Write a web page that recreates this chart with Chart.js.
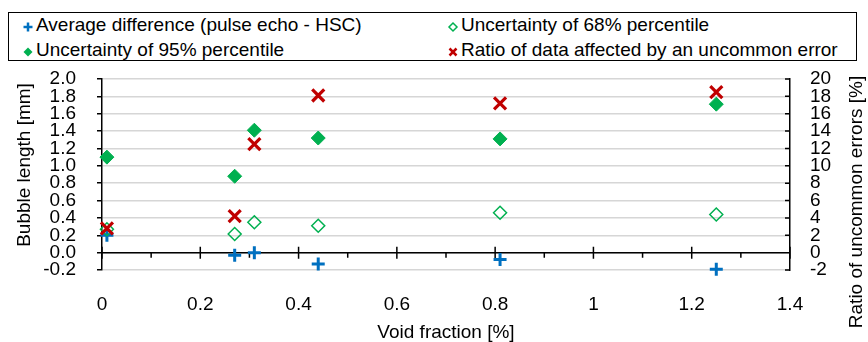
<!DOCTYPE html>
<html>
<head>
<meta charset="utf-8">
<title>Bubble length vs void fraction</title>
<script src="https://cdn.jsdelivr.net/npm/chart.js@4/dist/chart.umd.min.js"></script>
<style>
  html, body { margin: 0; padding: 0; background: #fff; }
  #wrap { position: relative; width: 868px; height: 342px; font-family: "Liberation Sans", Arial, sans-serif; }
  #legendBox { position: absolute; left: 8px; top: 12px; width: 849px; height: 49px; border: 1.5px solid #000; box-sizing: border-box; background: #fff; }
  .lg-mark { position: absolute; width: 12px; height: 12px; }
  .lg-text { position: absolute; font-size: 19px; line-height: 22px; white-space: nowrap; color: #000; }
</style>
</head>
<body>
<div id="wrap">
  <canvas id="bubbleChart" width="868" height="342"></canvas>
  <div id="legendBox"></div>
</div>
<script>
// data
const voidFraction = [0.01, 0.27, 0.31, 0.44, 0.81, 1.25];
const avgDifference = [0.20, -0.03, 0.00, -0.13, -0.08, -0.19];
const uncertainty68 = [0.27, 0.215, 0.35, 0.31, 0.46, 0.44];
const uncertainty95 = [1.10, 0.88, 1.41, 1.32, 1.31, 1.71];
const uncommonRatio = [2.8, 4.2, 12.5, 18.1, 17.2, 18.5];

// tick values of the three axes
const xTickValues = [0, 0.2, 0.4, 0.6, 0.8, 1, 1.2, 1.4];
const yTickValues = [-0.2, 0, 0.2, 0.4, 0.6, 0.8, 1.0, 1.2, 1.4, 1.6, 1.8, 2.0];
const y2TickValues = [-2, 0, 2, 4, 6, 8, 10, 12, 14, 16, 18, 20];

const seriesNames = [
    'Average difference (pulse echo - HSC)',
    'Uncertainty of 68% percentile',
    'Uncertainty of 95% percentile',
    'Ratio of data affected by an uncommon error'
];

const BLUE = '#0070C0';
const GREEN = '#00B050';
const RED = '#C00000';
const FONT = '"Liberation Sans", Arial, sans-serif';

function toPoints(values) {
    return voidFraction.map((x, i) => ({ x: x, y: values[i] }));
}

// extra axis drawing: x axis line at y = 0, inward ticks on the right axis, titles
const axisExtras = {
    id: 'axisExtras',
    beforeDatasetsDraw(chart) {
        const ctx = chart.ctx;
        const area = chart.chartArea;
        const xs = chart.scales.x;
        const ys = chart.scales.y;
        const y2 = chart.scales.y2;
        const y0 = ys.getPixelForValue(0);

        ctx.save();
        ctx.strokeStyle = '#000';
        ctx.lineWidth = 1.5;
        ctx.beginPath();
        ctx.moveTo(area.left, y0);
        ctx.lineTo(area.right, y0);
        xTickValues.forEach(v => {
            const px = xs.getPixelForValue(v);
            ctx.moveTo(px, y0 - 6);
            ctx.lineTo(px, y0 + 6);
        });
        for (let i = 0; i < xTickValues.length - 1; i++) {
            const px = xs.getPixelForValue((xTickValues[i] + xTickValues[i + 1]) / 2);
            ctx.moveTo(px, y0);
            ctx.lineTo(px, y0 + 5);
        }
        y2TickValues.forEach(v => {
            const py = y2.getPixelForValue(v);
            ctx.moveTo(area.right, py);
            ctx.lineTo(area.right - 5, py);
        });
        ctx.stroke();
        ctx.restore();
    },
    afterDraw(chart) {
        const ctx = chart.ctx;
        ctx.save();
        ctx.fillStyle = '#000';
        ctx.font = '19px ' + FONT;
        ctx.textAlign = 'center';
        ctx.textBaseline = 'middle';
        ctx.fillText('Void fraction [%]', (chart.chartArea.left + chart.chartArea.right) / 2, 333);

        ctx.translate(25, 165);
        ctx.rotate(-Math.PI / 2);
        ctx.fillText('Bubble length [mm]', 0, 0);
        ctx.restore();

        ctx.save();
        ctx.fillStyle = '#000';
        ctx.font = '19px ' + FONT;
        ctx.textAlign = 'center';
        ctx.textBaseline = 'middle';
        ctx.translate(857, 202);
        ctx.rotate(-Math.PI / 2);
        ctx.fillText('Ratio of uncommon errors [%]', 0, 0);
        ctx.restore();
    }
};

const canvas = document.getElementById('bubbleChart');
new Chart(canvas.getContext('2d'), {
    type: 'scatter',
    data: {
        datasets: [
            {
                label: seriesNames[0], data: toPoints(avgDifference), yAxisID: 'y', order: 3, clip: false,
                pointStyle: 'cross', pointRadius: 6.5, pointBorderWidth: 3,
                borderColor: BLUE, backgroundColor: BLUE
            },
            {
                label: seriesNames[1], data: toPoints(uncertainty68), yAxisID: 'y', order: 2, clip: false,
                pointStyle: 'rectRot', pointRadius: 6.5, pointBorderWidth: 1.5,
                borderColor: GREEN, backgroundColor: 'rgba(255,255,255,0)'
            },
            {
                label: seriesNames[2], data: toPoints(uncertainty95), yAxisID: 'y', order: 1, clip: false,
                pointStyle: 'rectRot', pointRadius: 7, pointBorderWidth: 1,
                borderColor: GREEN, backgroundColor: GREEN
            },
            {
                label: seriesNames[3], data: toPoints(uncommonRatio), yAxisID: 'y2', order: 0, clip: false,
                pointStyle: 'crossRot', pointRadius: 8.5, pointBorderWidth: 3.2,
                borderColor: RED, backgroundColor: RED
            }
        ]
    },
    options: {
        responsive: false,
        animation: false,
        devicePixelRatio: 1,
        layout: { padding: { top: 79, left: 0, right: 0, bottom: 0 } },
        plugins: { legend: { display: false }, tooltip: { enabled: false } },
        scales: {
            x: {
                type: 'linear', position: 'bottom', min: 0, max: 1.4,
                afterBuildTicks: s => { s.ticks = xTickValues.map(v => ({ value: v })); },
                afterFit: s => { s.height = 72; },
                grid: { display: false },
                border: { display: false },
                ticks: { color: '#000', font: { family: FONT, size: 19 }, padding: 15, maxRotation: 0,
                         autoSkip: false, callback: v => String(v) }
            },
            y: {
                type: 'linear', position: 'left', min: -0.2, max: 2.0,
                afterBuildTicks: s => { s.ticks = yTickValues.map(v => ({ value: v })); },
                afterFit: s => { s.width = 102; },
                grid: { color: '#d6d6d6', lineWidth: 1.5, tickColor: '#000', tickLength: 5 },
                border: { display: true, color: '#000', width: 1.5 },
                ticks: { color: '#000', font: { family: FONT, size: 19, lineHeight: 0.9 }, padding: 21,
                         autoSkip: false, callback: v => v.toFixed(1) }
            },
            y2: {
                type: 'linear', position: 'right', min: -2, max: 20,
                afterBuildTicks: s => { s.ticks = y2TickValues.map(v => ({ value: v })); },
                afterFit: s => { s.width = 78; },
                grid: { drawOnChartArea: false, drawTicks: false },
                border: { display: true, color: '#000', width: 1.5 },
                ticks: { color: '#000', font: { family: FONT, size: 19, lineHeight: 0.9 }, padding: 20,
                         autoSkip: false, callback: v => String(v) }
            }
        }
    },
    plugins: [axisExtras]
});

// legend built from the series names, two columns in a framed box
const legendItems = [
    { name: seriesNames[0], mark: 'plus', x: 28, y: 25 },
    { name: seriesNames[1], mark: 'open', x: 453, y: 25 },
    { name: seriesNames[2], mark: 'diamond', x: 28, y: 50 },
    { name: seriesNames[3], mark: 'x', x: 453, y: 50 }
];
const markSvg = {
    plus: '<line x1="6" y1="1.5" x2="6" y2="10.5" stroke="' + BLUE + '" stroke-width="2.5"/><line x1="1.5" y1="6" x2="10.5" y2="6" stroke="' + BLUE + '" stroke-width="2.5"/>',
    open: '<polygon points="6,2 10,6 6,10 2,6" fill="none" stroke="' + GREEN + '" stroke-width="1.5"/>',
    diamond: '<polygon points="6,1.5 10.5,6 6,10.5 1.5,6" fill="' + GREEN + '"/>',
    x: '<line x1="2.5" y1="2.5" x2="9.5" y2="9.5" stroke="' + RED + '" stroke-width="2.5"/><line x1="9.5" y1="2.5" x2="2.5" y2="9.5" stroke="' + RED + '" stroke-width="2.5"/>'
};
const wrap = document.getElementById('wrap');
legendItems.forEach(item => {
    const m = document.createElement('div');
    m.className = 'lg-mark';
    m.style.left = (item.x - 6) + 'px';
    m.style.top = (item.y - 6) + 'px';
    m.innerHTML = '<svg width="12" height="12" viewBox="0 0 12 12">' + markSvg[item.mark] + '</svg>';
    wrap.appendChild(m);

    const t = document.createElement('div');
    t.className = 'lg-text';
    t.style.left = (item.x + 8) + 'px';
    t.style.top = (item.y - 11) + 'px';
    t.textContent = item.name;
    wrap.appendChild(t);
});
</script>
</body>
</html>
